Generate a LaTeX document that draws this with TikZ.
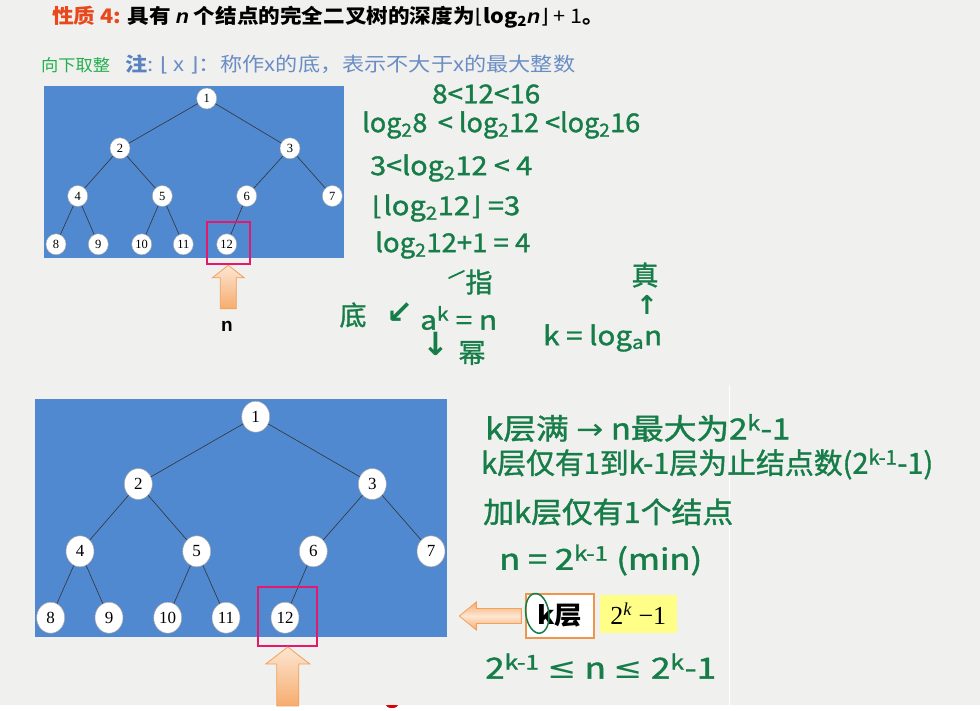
\documentclass[tikz,border=0pt]{standalone}
\usepackage{fontspec}
\usepackage{graphicx}
\setmainfont{Noto Sans CJK SC}
\newfontfamily\hwf[FakeBold=1.3]{Noto Sans CJK SC}
\newfontfamily\dv{DejaVu Sans}
\newfontfamily\tnr{Liberation Serif}
\newfontfamily\lsans{Liberation Sans}
\usetikzlibrary{shapes.geometric}
\definecolor{bgc}{HTML}{F0F0EE}
\definecolor{treeblue}{HTML}{5089D0}
\definecolor{pinkc}{HTML}{E5186C}
\definecolor{arrline}{HTML}{F2A05A}
\definecolor{arrlight}{HTML}{FDE6D2}
\definecolor{arrdark}{HTML}{F6AC6E}
\definecolor{hgreen}{RGB}{22,125,72}
\definecolor{hred}{HTML}{E8491C}
\definecolor{ngreen}{HTML}{22AF4C}
\definecolor{nblue}{HTML}{5A82C0}
\definecolor{tblue}{HTML}{6A8DC5}
\definecolor{yel}{HTML}{FFFF88}
\definecolor{kbord}{HTML}{F0964A}
\newcommand\hwfit[2]{\resizebox{#1}{\height}{#2}}
\newcommand\sym[1]{{\dv #1}}
\begin{document}
\begin{tikzpicture}[x=1pt,y=-1pt,
  tn/.style={ellipse, fill=white, draw=black!35, line width=0.4pt, inner sep=0pt,
    minimum width=20, minimum height=21, font=\tnr\fontsize{12.5}{12.5}\selectfont},
  bn/.style={ellipse, fill=white, draw=black!35, line width=0.5pt, inner sep=0pt,
    minimum width=28, minimum height=31, font=\tnr\fontsize{17}{17}\selectfont},
  edge/.style={draw=black!80, line width=0.6pt},
  pinkbox/.style={draw=pinkc, line width=2pt, inner sep=0pt},
  arrowsty/.style={draw=arrline, line width=0.8pt, top color=arrlight, bottom color=arrdark},
  hw/.style={text=hgreen, inner sep=0pt, anchor=west, font=\hwf\fontsize{26}{26}\selectfont},
  hwb/.style={text=hgreen, inner sep=0pt, anchor=west, font=\hwf\fontsize{29}{29}\selectfont},
  hwc/.style={text=hgreen, inner sep=0pt, font=\hwf\fontsize{27}{27}\selectfont},
  hwa/.style={text=hgreen, inner sep=0pt, font=\dv\bfseries\fontsize{32}{32}\selectfont}]
\useasboundingbox (0,0) rectangle (980,710);
\fill[bgc] (0,0) rectangle (980,710);
\fill[white] (0,705) rectangle (980,710);
\draw[white, line width=1.2pt] (729.5,385) -- (729.5,705);
\fill[red!85!black] (386,705) arc[start angle=180, end angle=0, x radius=6, y radius=3] -- cycle;

% ---------- header ----------
\node[anchor=west, inner sep=0pt, font=\fontsize{20}{20}\selectfont\bfseries] (h1) at (52,17)
  {\hwfit{552pt}{{\color{hred}性质 4:} 具有 {\lsans\bfseries\itshape n} 个结点的完全二叉树的深度为{\dv\mdseries ⌊}log\textsubscript{2}{\lsans\bfseries\itshape n}{\dv\mdseries ⌋} {\mdseries + 1}。}};
\node[anchor=west, inner sep=0pt, text=ngreen, font=\fontsize{16.5}{16.5}\selectfont] (h2a) at (41,65)
  {\hwfit{69pt}{向下取整}};
\node[anchor=west, inner sep=0pt, font=\fontsize{19.5}{19.5}\selectfont] (h2b) at (125,64)
  {\hwfit{450pt}{{\color{nblue}\bfseries 注}{\color{tblue}: {\dv ⌊} x {\dv ⌋}：称作x的底，表示不大于x的最大整数}}};

% ---------- top tree ----------
\fill[treeblue] (44,86) rectangle (344,258);
\node[tn] (a1) at (206.7,98.5) {1};
\node[tn] (a2) at (120,148.3) {2};
\node[tn] (a3) at (290,148.3) {3};
\node[tn] (a4) at (77.7,196) {4};
\node[tn] (a5) at (162.3,196) {5};
\node[tn] (a6) at (246.7,196) {6};
\node[tn] (a7) at (332.3,196) {7};
\node[tn] (a8) at (56,244.3) {8};
\node[tn] (a9) at (98.3,244.3) {9};
\node[tn] (a10) at (141.7,244.3) {10};
\node[tn] (a11) at (183.3,244.3) {11};
\node[tn] (a12) at (226.7,244.3) {12};
\foreach \p/\c in {a1/a2,a1/a3,a2/a4,a2/a5,a3/a6,a3/a7,a4/a8,a4/a9,a5/a10,a5/a11,a6/a12}
  \draw[edge] (\p) -- (\c);
\node[pinkbox, minimum width=43.3, minimum height=42.6] (pa) at (228.3,243) {};
\draw[arrowsty] (pa.south) -- ++(16,12.5) -- ++(-8,0) -- ++(0,31) -- ++(-16,0) -- ++(0,-31) -- ++(-8,0) -- cycle;
\node[inner sep=0pt, font=\lsans\bfseries\fontsize{19}{19}\selectfont] (nlab) at (227,326) {n};

% ---------- bottom tree ----------
\fill[treeblue] (34.7,399.3) rectangle (446.7,636.7);
\node[bn] (b1) at (255.7,416.7) {1};
\node[bn] (b2) at (138.3,484) {2};
\node[bn] (b3) at (372.3,484) {3};
\node[bn] (b4) at (80,551.3) {4};
\node[bn] (b5) at (196.7,551.3) {5};
\node[bn] (b6) at (313.3,551.3) {6};
\node[bn] (b7) at (431,551.3) {7};
\node[bn] (b8) at (50.7,617.7) {8};
\node[bn] (b9) at (109,617.7) {9};
\node[bn] (b10) at (167.7,617.7) {10};
\node[bn] (b11) at (226,617.7) {11};
\node[bn] (b12) at (285,617.7) {12};
\foreach \p/\c in {b1/b2,b1/b3,b2/b4,b2/b5,b3/b6,b3/b7,b4/b8,b4/b9,b5/b10,b5/b11,b6/b12}
  \draw[edge] (\p) -- (\c);
\node[pinkbox, minimum width=59, minimum height=59.3] (pb) at (287.8,616.3) {};
\draw[arrowsty] (pb.south) -- ++(22,17) -- ++(-11,0) -- ++(0,42) -- ++(-22,0) -- ++(0,-42) -- ++(-11,0) -- cycle;

% ---------- k-layer boxes ----------
\node[draw=kbord, line width=1.3pt, fill=white, minimum width=68, minimum height=44, inner sep=0pt,
  font=\bfseries\fontsize{25}{25}\selectfont] (kb) at (560,616) {\hwfit{45pt}{k层}};
\node[fill=yel, minimum width=76.7, minimum height=38.3, inner sep=0pt,
  font=\tnr\fontsize{26}{26}\selectfont] (yb) at (638.3,614) {2\textsuperscript{\itshape k} −1};
\path (kb.west) ++(-4,0) coordinate (lat);
\draw[draw=arrline, line width=0.8pt, top color=arrdark, bottom color=arrdark, middle color=arrlight]
  (lat) ++(0,-7.5) -- ++(-45,0) -- ++(0,-6.5) -- ++(-17,14) -- ++(17,14) -- ++(0,-6.5) -- ++(45,0) -- cycle;
\draw[hgreen, line width=1.5pt, rotate around={8:(537.3,613.3)}] (537.3,613.3) ellipse [x radius=11.5, y radius=20];

% ---------- handwriting (top) ----------
\node[hw] (t1) at (432,94) {\hwfit{108pt}{8<12<16}};
\node[hw] (t2) at (362,125) {\hwfit{278pt}{log\textsubscript{2}8 \,< log\textsubscript{2}12 <log\textsubscript{2}16}};
\node[hw] (t3) at (370,168) {\hwfit{162pt}{3<log\textsubscript{2}12 < 4}};
\node[hw] (t4) at (372,208) {\hwfit{148pt}{\sym{⌊}log\textsubscript{2}12\sym{⌋} =3}};
\node[hw] (t5) at (375,245) {\hwfit{155pt}{log\textsubscript{2}12+1 = 4}};
\node[hwc] (di) at (353,315) {底};
\node[hwa] (arrdl) at (400,313) {↙};
\node[hw] (ak) at (420,318) {\hwfit{77pt}{a\textsuperscript{k} = n}};
\node[hwc] (zhi) at (479,282) {指};
\draw[hgreen, line width=1.8pt, line cap=round] (449,278) -- (464,271);
\node[hwa] (arrd) at (436,344) {↓};
\node[hwc] (mi) at (472,353) {幂};
\node[hw] (klog) at (543,338) {\hwfit{119pt}{k = log\textsubscript{a}n}};
\node[hwc] (zhen) at (645,275) {真};
\node[hwa, font=\dv\bfseries\fontsize{26}{26}\selectfont] (arru) at (647,305) {↑};

% ---------- handwriting (bottom) ----------
\node[hwb] (r1) at (485,428) {\hwfit{305pt}{k层满 \sym{→} n最大为2\textsuperscript{k}-1}};
\node[hwb] (r2) at (481,464) {\hwfit{452pt}{k层仅有1到k-1层为止结点数(2\textsuperscript{k-1}-1)}};
\node[hwb] (r3) at (483,512) {\hwfit{250pt}{加k层仅有1个结点}};
\node[hwb] (r4) at (499,560) {\hwfit{203pt}{n = 2\textsuperscript{k-1} (min)}};
\node[hwb] (r5) at (485,666) {\hwfit{231pt}{2\textsuperscript{k-1} \sym{≤} n \sym{≤} 2\textsuperscript{k}-1}};
\end{tikzpicture}
\end{document}
